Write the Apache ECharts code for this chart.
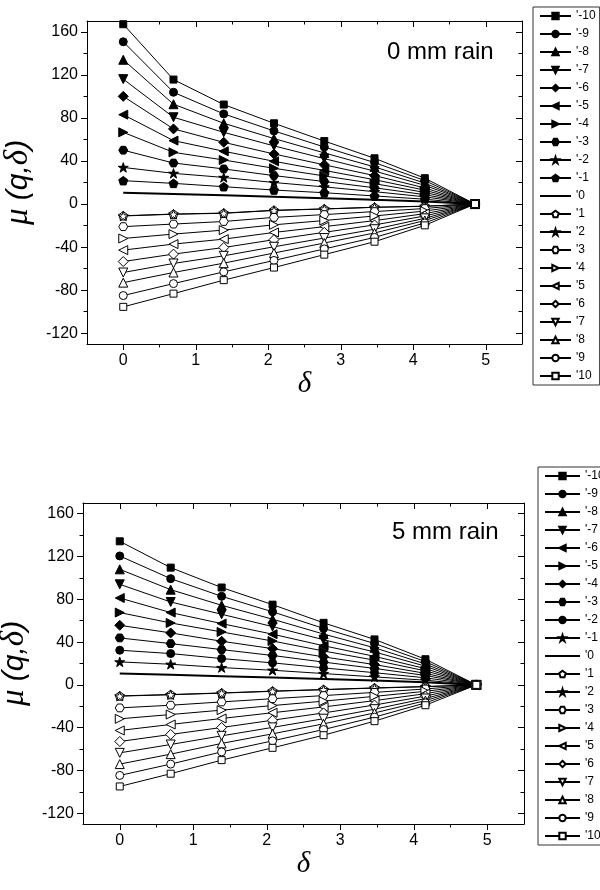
<!DOCTYPE html>
<html>
<head>
<meta charset="utf-8">
<script src="https://cdn.jsdelivr.net/npm/echarts@6/dist/echarts.min.js"></script>
<style>
  html, body { margin: 0; padding: 0; background: #fff; }
  #chart { width: 600px; height: 890px; }
</style>
</head>
<body>
<div id="chart"></div>
<script>
// delta = ln(box size), same for both panels
var delta = [0, 0.693, 1.386, 2.079, 2.773, 3.466, 4.159, 4.852];
var qLabels = ["'-10", "'-9", "'-8", "'-7", "'-6", "'-5", "'-4", "'-3", "'-2", "'-1", "'0",
               "'1", "'2", "'3", "'4", "'5", "'6", "'7", "'8", "'9", "'10"];
var xLabels = [0, 1, 2, 3, 4, 5];
var yLabels = [-120, -80, -40, 0, 40, 80, 120, 160];

// 0 mm rain, rows q = -10 ... 10
var dryMu = [
  [167, 115.6, 92.4, 75, 58.5, 42.5, 24, 0],
  [150.7, 103.8, 83.7, 67.9, 53.0, 38.5, 21.8, 0],
  [134, 92.7, 75, 60.8, 47.5, 34.5, 19.5, 0],
  [116, 80.6, 66.6, 54.0, 42.2, 30.6, 17.4, 0],
  [100, 69.8, 57.3, 46.5, 36.4, 26.4, 15.0, 0],
  [83, 58.9, 49, 39.7, 31.2, 22.6, 12.9, 0],
  [66.6, 48, 40.9, 33.2, 26.1, 18.9, 10.8, 0],
  [50, 38.1, 32.6, 26.4, 20.9, 15.1, 8.7, 0],
  [34, 28.5, 24.7, 20.0, 15.9, 11.5, 6.7, 0],
  [21.7, 19.2, 16.1, 13, 10.5, 7.5, 4.5, 0],
  [10.5, 9.3, 8.1, 6.8, 5.4, 3.9, 2.3, 0],
  [-10.9, -9.3, -8.4, -5.8, -4.5, -3, -2, 0],
  [-11.1, -9.5, -8.6, -6.0, -4.6, -3.1, -2.1, 0],
  [-21, -18.6, -16.2, -12.4, -9.8, -7, -4.2, 0],
  [-32, -27.9, -24.2, -19.3, -15.3, -11.1, -6.5, 0],
  [-42.8, -37.2, -32.6, -26.4, -21.0, -15.4, -8.9, 0],
  [-53.4, -46.5, -40.4, -33.1, -26.3, -19.4, -11.1, 0],
  [-63.6, -55.2, -48.1, -39.7, -31.6, -23.4, -13.3, 0],
  [-73, -63.6, -54.9, -45.5, -36.2, -26.9, -15.3, 0],
  [-85, -73.9, -63, -52.4, -41.7, -31, -17.6, 0],
  [-95.5, -83.2, -70.7, -59, -47, -35, -19.8, 0]
];

// 5 mm rain, rows q = -10 ... 10
var wetMu = [
  [134.2, 109.6, 91, 75, 58, 42.5, 24, 0],
  [120.5, 99.3, 82.8, 68.3, 52.8, 38.7, 21.8, 0],
  [108, 89, 74.4, 61.4, 47.5, 34.7, 19.6, 0],
  [94, 77.5, 66, 54.5, 42.2, 30.8, 17.5, 0],
  [81.2, 67.6, 57.3, 47.4, 36.6, 26.7, 15.2, 0],
  [67.6, 57.9, 49.5, 41.0, 31.7, 23.1, 13.1, 0],
  [55.7, 48.6, 40.8, 33.9, 26.2, 19.0, 10.8, 0],
  [43.9, 38.6, 33, 27.5, 21.3, 15.4, 8.8, 0],
  [32.4, 29.3, 24.6, 20.6, 15.9, 11.4, 6.6, 0],
  [21.5, 19.3, 16.2, 13.7, 10.6, 7.5, 4.4, 0],
  [10.6, 9.4, 8.2, 6.9, 5.5, 4.0, 2.4, 0],
  [-10.3, -9, -7.5, -5.8, -4.3, -2.8, -1.5, 0],
  [-10.5, -9.2, -7.7, -6.0, -4.5, -3.0, -1.7, 0],
  [-21.5, -19, -15.9, -12.9, -10.0, -7.0, -3.8, 0],
  [-31.7, -27.7, -23.6, -19.3, -15.2, -10.7, -6.0, 0],
  [-42.6, -37, -31.4, -26.0, -20.6, -14.7, -8.2, 0],
  [-52.9, -46.3, -39.8, -33.0, -26.2, -18.8, -10.5, 0],
  [-63.5, -55.7, -47.6, -39.7, -31.6, -22.7, -12.7, 0],
  [-74, -64.7, -54.7, -45.7, -36.4, -26.2, -14.7, 0],
  [-84.6, -74, -62.6, -52.3, -41.7, -30.1, -16.8, 0],
  [-94.9, -83, -70.3, -58.8, -47, -33.9, -19, 0]
];

var drySymbols = ['rect', 'circle', 'up', 'down', 'diamond', 'left', 'right', 'hexagon', 'star', 'pentagon', 'none',
                  'pentagon', 'star', 'hexagon', 'right', 'left', 'diamond', 'down', 'up', 'circle', 'rect'];
var wetSymbols = ['rect', 'circle', 'up', 'down', 'left', 'right', 'diamond', 'hexagon', 'circle', 'star', 'none',
                  'pentagon', 'star', 'hexagon', 'right', 'left', 'diamond', 'down', 'up', 'circle', 'rect'];

var SHAPES = {
  rect: {symbol: 'rect', rotate: 0, size: 7},
  circle: {symbol: 'circle', rotate: 0, size: 8},
  up: {symbol: 'triangle', rotate: 0, size: 9},
  down: {symbol: 'triangle', rotate: 180, size: 9},
  left: {symbol: 'triangle', rotate: 90, size: 9},
  right: {symbol: 'triangle', rotate: -90, size: 9},
  diamond: {symbol: 'diamond', rotate: 0, size: 10},
  hexagon: {symbol: 'path://M25,6.7L75,6.7L100,50L75,93.3L25,93.3L0,50Z', rotate: 0, size: 9},
  star: {symbol: 'path://M50,0L61.23,34.55L97.55,34.55L68.16,55.9L79.39,90.45L50,69.1L20.61,90.45L31.84,55.9L2.45,34.55L38.77,34.55Z', rotate: 0, size: 10},
  pentagon: {symbol: 'path://M50,0L97.55,34.55L79.39,90.45L20.61,90.45L2.45,34.55Z', rotate: 0, size: 9},
  none: {symbol: 'circle', rotate: 0, size: 0}
};

function makeSeries(prefix, rows, symbols, axisIndex) {
  var out = [];
  for (var i = 0; i < rows.length; i++) {
    var pts = [];
    for (var j = 0; j < delta.length; j++) {
      pts.push([delta[j], rows[i][j]]);
    }
    var sh = SHAPES[symbols[i]];
    var isZero = symbols[i] === 'none';
    var filled = i < 10;
    out.push({
      name: prefix + qLabels[i],
      type: 'line',
      xAxisIndex: axisIndex,
      yAxisIndex: axisIndex,
      data: pts,
      symbol: sh.symbol,
      symbolSize: sh.size,
      symbolRotate: sh.rotate,
      symbolKeepAspect: true,
      showSymbol: !isZero,
      lineStyle: {color: '#000', width: isZero ? 2 : 1},
      itemStyle: isZero ? {color: 'rgba(0,0,0,0)', borderWidth: 0} :
        {color: filled ? '#000' : '#fff', borderColor: '#000', borderWidth: 1},
      emphasis: {disabled: true},
      z: 2
    });
  }
  return out;
}

function range(a, b, s) {
  var r = [];
  for (var v = a; v <= b + 1e-9; v += s) r.push(Math.round(v * 100) / 100);
  return r;
}

var xMinor = range(0.5, 4.5, 1);
var yMinor = range(-100, 140, 40);

var axisColor = '#000';
var labelFont = {fontSize: 16, color: '#000', fontFamily: 'Liberation Sans, Arial, sans-serif'};

function xAxes(g) {
  var base = {gridIndex: g, type: 'value', min: -0.5, max: 5.5, splitLine: {show: false}};
  return [
    Object.assign({}, base, {
      position: 'bottom',
      axisLine: {show: true, onZero: false, lineStyle: {color: axisColor, width: 1}},
      axisTick: {show: true, inside: false, length: 6, customValues: xLabels, lineStyle: {color: axisColor}},
      axisLabel: Object.assign({customValues: xLabels, margin: 9}, labelFont),
      name: 'δ', nameLocation: 'middle', nameGap: 24,
      nameTextStyle: {fontFamily: 'Liberation Serif, Times New Roman, serif', fontStyle: 'italic', fontSize: 29, color: '#000'}
    }),
    Object.assign({}, base, {
      position: 'bottom',
      axisLine: {show: false, onZero: false},
      axisTick: {show: true, inside: false, length: 3.5, customValues: xMinor, lineStyle: {color: axisColor}},
      axisLabel: {show: false}
    }),
    Object.assign({}, base, {
      position: 'top',
      axisLine: {show: true, onZero: false, lineStyle: {color: axisColor, width: 1}},
      axisTick: {show: true, inside: true, length: 6, customValues: xLabels, lineStyle: {color: axisColor}},
      axisLabel: {show: false}
    }),
    Object.assign({}, base, {
      position: 'top',
      axisLine: {show: false, onZero: false},
      axisTick: {show: true, inside: true, length: 3.5, customValues: xMinor, lineStyle: {color: axisColor}},
      axisLabel: {show: false}
    })
  ];
}

function yAxes(g) {
  var base = {gridIndex: g, type: 'value', min: -130, max: 170, splitLine: {show: false}};
  return [
    Object.assign({}, base, {
      position: 'left',
      axisLine: {show: true, onZero: false, lineStyle: {color: axisColor, width: 1}},
      axisTick: {show: true, inside: false, length: 6, customValues: yLabels, lineStyle: {color: axisColor}},
      axisLabel: Object.assign({customValues: yLabels, margin: 9}, labelFont),
      name: '{g|μ}{s| (q,}{g|δ}{s|)}', nameLocation: 'middle', nameGap: 33,
      nameTextStyle: {
        color: '#000',
        rich: {
          g: {fontFamily: 'Liberation Serif, Times New Roman, serif', fontStyle: 'italic', fontSize: 33, color: '#000'},
          s: {fontFamily: 'Liberation Sans, Arial, sans-serif', fontStyle: 'italic', fontSize: 30, color: '#000'}
        }
      }
    }),
    Object.assign({}, base, {
      position: 'left',
      axisLine: {show: false, onZero: false},
      axisTick: {show: true, inside: false, length: 3.5, customValues: yMinor, lineStyle: {color: axisColor}},
      axisLabel: {show: false}
    }),
    Object.assign({}, base, {
      position: 'right',
      axisLine: {show: true, onZero: false, lineStyle: {color: axisColor, width: 1}},
      axisTick: {show: true, inside: true, length: 6, customValues: yLabels, lineStyle: {color: axisColor}},
      axisLabel: {show: false}
    }),
    Object.assign({}, base, {
      position: 'right',
      axisLine: {show: false, onZero: false},
      axisTick: {show: true, inside: true, length: 3.5, customValues: yMinor, lineStyle: {color: axisColor}},
      axisLabel: {show: false}
    })
  ];
}

function makeLegend(prefix, left, top, iconWidth) {
  return {
    orient: 'vertical',
    left: left,
    top: top,
    data: qLabels.map(function (q) { return prefix + q; }),
    formatter: function (name) { return name.slice(1); },
    itemWidth: iconWidth,
    itemHeight: 8,
    itemGap: 6,
    padding: [3, 4, 3, 6],
    borderColor: '#333',
    borderWidth: 1,
    selectedMode: false,
    textStyle: {fontSize: 12, color: '#000', lineHeight: 12, fontFamily: 'Liberation Sans, Arial, sans-serif'}
  };
}

var chart = echarts.init(document.getElementById('chart'), null, {renderer: 'canvas'});
var option = {
  animation: false,
  backgroundColor: '#fff',
  grid: [
    {left: 87, top: 21, width: 435, height: 323, containLabel: false, outerBoundsMode: 'none'},
    {left: 83, top: 503, width: 441, height: 321, containLabel: false, outerBoundsMode: 'none'}
  ],
  xAxis: xAxes(0).concat(xAxes(1)),
  yAxis: yAxes(0).concat(yAxes(1)),
  legend: [makeLegend('a', 533, 7, 31), makeLegend('b', 538, 467, 35)],
  graphic: [
    {type: 'text', left: 387, top: 40, style: {text: '0 mm rain', fontSize: 24, fill: '#000', fontFamily: 'Liberation Sans, Arial, sans-serif'}},
    {type: 'text', left: 392, top: 520, style: {text: '5 mm rain', fontSize: 24, fill: '#000', fontFamily: 'Liberation Sans, Arial, sans-serif'}}
  ],
  series: makeSeries('a', dryMu, drySymbols, 0).concat(makeSeries('b', wetMu, wetSymbols, 4))
};
chart.setOption(option);
</script>
</body>
</html>
